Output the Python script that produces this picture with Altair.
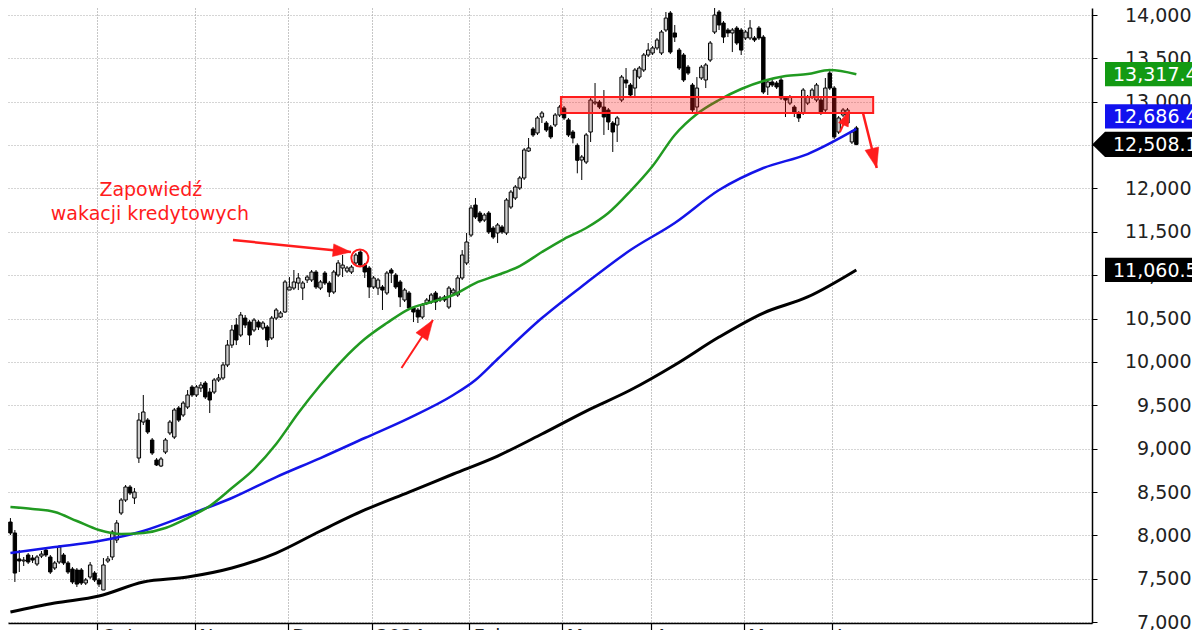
import altair as alt
import pandas as pd

# ---------------- candles (index = trading day from 4 Sep 2023) ----------------
opens = [8154, 8028, 7728, 7705, 7774, 7739, 7670, 7762, 7831, 7751,
         7624, 7693, 7774, 7682, 7612, 7601, 7601, 7451, 7520, 7566,
         7486, 7370, 7705, 7751, 7947, 8258, 8408, 8558, 8431, 8892,
         9307, 9330, 9100, 8869, 8800, 8961, 9181, 9134, 9469, 9388,
         9480, 9711, 9619, 9699, 9757, 9653, 9653, 9792, 9815, 9965,
         10195, 10426, 10310, 10506, 10460, 10368, 10460, 10391, 10403, 10276,
         10506, 10518, 10576, 10829, 10852, 10910, 10852, 10945, 10945, 11037,
         10852, 11025, 10910, 10806, 11002, 11083, 11048, 11037, 11141, 11267,
         11117, 11083, 10864, 10852, 10864, 10795, 11060, 11002, 10922, 10714,
         10795, 10622, 10599, 10518, 10679, 10691, 10795, 10737, 10749, 10633,
         10795, 10772, 10968, 11141, 11463, 11809, 11717, 11636, 11717, 11544,
         11487, 11556, 11487, 11786, 11890, 12005, 12121, 12432, 12686, 12640,
         12824, 12755, 12709, 12732, 12847, 12928, 12790, 12651, 12498, 12328,
         12305, 12651, 12985, 12997, 12939, 12905, 12755, 12732, 13020, 13251,
         13193, 13158, 13285, 13366, 13539, 13562, 13620, 13562, 13827, 14023,
         13793, 13596, 13539, 13400, 13193, 12939, 13274, 13251, 13481, 13804,
         14035, 13908, 13827, 13793, 13850, 13827, 13735, 13735, 13735, 13850,
         13746, 13170, 13228, 13216, 13251, 13043, 12985, 12939, 12870, 12870,
         12985, 13055, 13020, 13020, 12905, 13331, 13158, 12651, 12847, 12755,
         12536, 12698]
closes = [8028, 7566, 7705, 7716, 7693, 7716, 7751, 7785, 7774, 7578,
          7682, 7866, 7682, 7578, 7463, 7439, 7451, 7486, 7659, 7486,
          7439, 7659, 7728, 8039, 8143, 8408, 8558, 8489, 8500, 9330,
          9423, 9192, 8950, 8812, 8881, 9100, 9307, 9446, 9330, 9526,
          9619, 9619, 9711, 9734, 9596, 9561, 9792, 9815, 9965, 10195,
          10368, 10253, 10541, 10426, 10310, 10483, 10403, 10449, 10253, 10506,
          10599, 10564, 10922, 10864, 10922, 10968, 10910, 10979, 11037, 10864,
          10922, 10910, 10806, 11037, 11141, 11117, 11083, 11094, 11233, 11117,
          11037, 10864, 10968, 10945, 10829, 11025, 11025, 10864, 10749, 10829,
          10622, 10576, 10518, 10656, 10714, 10772, 10691, 10714, 10714, 10852,
          10829, 10968, 11233, 11383, 11775, 11671, 11625, 11694, 11498, 11440,
          11579, 11498, 11867, 11959, 12017, 12121, 12444, 12467, 12617, 12813,
          12870, 12674, 12594, 12847, 12939, 12813, 12617, 12582, 12325, 12363,
          12617, 13020, 12997, 12939, 12824, 12767, 12651, 12813, 13285, 13216,
          13078, 13366, 13389, 13539, 13596, 13620, 13712, 13804, 13965, 13573,
          13746, 13389, 13251, 13331, 12905, 13158, 13400, 13424, 13677, 14000,
          13885, 13746, 13793, 13827, 13677, 13596, 13804, 13850, 13712, 13735,
          13112, 13228, 13193, 13170, 13043, 13020, 13055, 12870, 12813, 13135,
          13055, 13135, 13193, 12870, 13158, 13158, 12594, 12813, 12905, 12905,
          12651, 12508.1]
highs = [8200, 8062, 7831, 7751, 7797, 7774, 7774, 7820, 7855, 7774,
         7705, 7889, 7797, 7705, 7635, 7624, 7624, 7509, 7693, 7589,
         7509, 7739, 7762, 8062, 8177, 8431, 8581, 8581, 8546, 9411,
         9619, 9353, 9123, 8892, 8904, 9123, 9330, 9469, 9492, 9549,
         9676, 9734, 9734, 9769, 9780, 9699, 9815, 9861, 9999, 10253,
         10426, 10506, 10576, 10541, 10483, 10506, 10483, 10472, 10426, 10530,
         10622, 10587, 10945, 10979, 11060, 11025, 10934, 11002, 11060, 11060,
         10945, 11048, 10934, 11060, 11175, 11233, 11106, 11117, 11256, 11290,
         11141, 11106, 10991, 10968, 10887, 11048, 11083, 11025, 10945, 10852,
         10818, 10645, 10622, 10679, 10737, 10795, 10818, 10760, 10772, 10875,
         10852, 11002, 11290, 11487, 11809, 11890, 11740, 11717, 11740, 11567,
         11602, 11579, 11890, 11982, 12040, 12144, 12467, 12582, 12709, 12836,
         12893, 12778, 12732, 12870, 12962, 12951, 12813, 12674, 12521, 12386,
         12640, 13043, 13216, 13020, 13135, 12928, 12778, 12836, 13308, 13389,
         13216, 13389, 13412, 13562, 13677, 13643, 13735, 13827, 14035, 14046,
         13885, 13620, 13562, 13424, 13216, 13285, 13424, 13447, 13700, 14138,
         14058, 13931, 13850, 13850, 13873, 13850, 13827, 13942, 13758, 13873,
         13769, 13251, 13251, 13239, 13274, 13066, 13078, 12962, 12893, 13158,
         13078, 13158, 13216, 13043, 13274, 13354, 13181, 12836, 12928, 12928,
         12674, 12721]
lows = [8004, 7463, 7578, 7647, 7670, 7682, 7647, 7739, 7751, 7555,
        7601, 7670, 7659, 7555, 7439, 7405, 7428, 7428, 7497, 7463,
        7405, 7370, 7682, 7716, 7912, 8235, 8385, 8466, 8362, 8835,
        9273, 9169, 8927, 8800, 8788, 8938, 9157, 9111, 9307, 9365,
        9457, 9596, 9596, 9653, 9573, 9411, 9630, 9769, 9792, 9941,
        10161, 10195, 10287, 10391, 10195, 10345, 10368, 10368, 10172, 10253,
        10483, 10506, 10564, 10829, 10829, 10829, 10714, 10910, 10922, 10841,
        10829, 10887, 10749, 10783, 10979, 10979, 11025, 11014, 11117, 11094,
        10968, 10737, 10841, 10772, 10599, 10772, 10910, 10841, 10633, 10691,
        10599, 10460, 10449, 10495, 10656, 10668, 10599, 10691, 10691, 10610,
        10772, 10749, 10945, 11117, 11440, 11648, 11602, 11613, 11475, 11417,
        11371, 11475, 11463, 11763, 11867, 11982, 12098, 12421, 12594, 12617,
        12755, 12651, 12571, 12709, 12824, 12790, 12594, 12521, 12175, 12098,
        12282, 12536, 12962, 12916, 12617, 12674, 12421, 12536, 12997, 13158,
        13055, 13043, 13262, 13343, 13516, 13539, 13596, 13539, 13804, 13550,
        13689, 13366, 13228, 13308, 12882, 12882, 13251, 13158, 13458, 13781,
        13827, 13677, 13746, 13573, 13654, 13539, 13712, 13712, 13689, 13712,
        13089, 13078, 13170, 13147, 13020, 12824, 12962, 12824, 12767, 12847,
        12962, 13032, 12997, 12847, 12882, 13135, 12571, 12628, 12824, 12732,
        12513, 12498]
days = list(range(len(opens)))

# ---------------- moving averages ----------------
green_days = list(range(0, 186, 5)) + [191]
green_vals = [8327, 8304, 8270, 8166, 8062, 8016, 8028, 8085, 8200, 8339,
              8546, 8765, 9054, 9411, 9734, 10022, 10264, 10449, 10610, 10691,
              10772, 10910, 11002, 11106, 11267, 11417, 11544, 11717, 11971, 12259,
              12617, 12859, 13020, 13147, 13239, 13297, 13320, 13366, 13317.4]
blue_days = [0, 10, 20, 30, 40, 50, 60, 70, 80, 90, 100, 105, 110, 120, 130,
             140, 150, 160, 170, 180, 191]
blue_vals = [7797, 7866, 7935, 8051, 8235, 8431, 8673, 8892, 9123, 9353, 9619,
             9792, 10034, 10506, 10910, 11290, 11602, 11982, 12236, 12397, 12686.4]
black_days = list(range(0, 181, 10)) + [191]
black_vals = [7117, 7220, 7301, 7463, 7520, 7624, 7797, 8051, 8293, 8500,
              8708, 8915, 9169, 9434, 9676, 9965, 10287, 10564, 10749, 11060.5]

# ---------------- axes ----------------
month_days = [19.6, 41.6, 62.6, 81.6, 103.6, 124.6, 144.6, 165.6, 185.6]
month_names = ["Oct", "Nov", "Dec", "2024", "Feb", "Mar", "Apr", "May", "Jun"]
price_ticks = list(range(7000, 14001, 500))

# ---------------- annotations ----------------
zone_days = [124.3, 194.8]
zone_prices = [12870, 13055]
note_lines = ["Zapowiedź", "wakacji kredytowych"]
note_days = [31.7, 31.5]
note_prices = [11913, 11636]
arrow_from_days = [50.25, 88.3, 192.5, 187.3]
arrow_from_prices = [11406, 9930, 12870, 12651]
arrow_to_days = [76.9, 95.4, 195.6, 189.4]
arrow_to_prices = [11267, 10483, 12236, 12893]
arrow_angles = [6, 304, 76, 293]
arrow_heads = [18, 20, 20, 15]
arrow_widths = [2.5, 2, 2.5, 2]
circle_day = [78.9]
circle_price = [11198]

tag_values = [13317.4, 12686.4, 12508.1, 11060.5]
tag_colors = ["#139a13", "#1212ee", "#000000", "#000000"]
tag_shift = [0, -12.5, 0, 0]
tag_pointer = [False, False, True, False]

RED = "#ff1c1c"
FONT = "DejaVu Sans"

xs = alt.Scale(domain=[0.58, 243.08], nice=False, zero=False)
ys = alt.Scale(domain=[6990, 14081], nice=False, zero=False)

expr = "'" + month_names[-1] + "'"
for k in range(len(month_names) - 2, -1, -1):
    mid = (month_days[k] + month_days[k + 1]) / 2
    expr = f"datum.value < {mid} ? '{month_names[k]}' : ({expr})"

x_axis = alt.Axis(values=month_days, labelExpr=expr, grid=True, gridDash=[1, 2],
                  gridColor="#8c8c8c", gridWidth=1, domainColor="#000000", domainWidth=1.5,
                  tickColor="#000000", tickSize=10, tickWidth=1.2, labelAlign="left",
                  labelBaseline="top", labelPadding=-6, labelOffset=4, labelFont=FONT,
                  labelFontSize=19, labelColor="#222222", labelFlush=False,
                  labelOverlap=False, title=None)
y_axis = alt.Axis(values=price_ticks, format=",.0f", orient="right", grid=True,
                  gridDash=[1, 2], gridColor="#aaaaaa", gridWidth=1,
                  domainColor="#000000", domainWidth=1.5, tickColor="#000000",
                  tickSize=5, labelAlign="right", labelBaseline="middle",
                  labelPadding=94, labelFont=FONT, labelFontSize=19,
                  labelColor="#222222", labelFlush=False, labelOverlap=False,
                  title=None)


def X(field):
    return alt.X(field, type="quantitative", scale=xs, axis=x_axis)


def Y(field):
    return alt.Y(field, type="quantitative", scale=ys, axis=y_axis)


df = pd.DataFrame({"day": days, "open": opens, "high": highs, "low": lows,
                   "close": closes})

wicks = alt.Chart(df).mark_rule(color="#000000", strokeWidth=1).encode(
    x=X("day"), y=Y("low"), y2="high")
bodies = alt.Chart(df).mark_bar(width=3.4, stroke="#000000", strokeWidth=1).encode(
    x=X("day"), y=Y("open"), y2="close",
    fill=alt.condition("datum.close >= datum.open", alt.value("#cdcdcd"),
                       alt.value("#000000")))


def ma_line(d, v, color, w):
    return alt.Chart(pd.DataFrame({"day": d, "v": v})).mark_line(
        color=color, strokeWidth=w, interpolate="monotone").encode(
        x=X("day"), y=Y("v"))


lines = [ma_line(black_days, black_vals, "#000000", 3),
         ma_line(blue_days, blue_vals, "#1414e8", 2.5),
         ma_line(green_days, green_vals, "#219a21", 2.5)]

zone = alt.Chart(pd.DataFrame({"d1": [zone_days[0]], "d2": [zone_days[1]],
                               "p1": [zone_prices[0]], "p2": [zone_prices[1]]})).mark_rect(
    fill=RED, fillOpacity=0.3, stroke=RED, strokeWidth=2).encode(
    x=X("d1"), x2="d2", y=Y("p1"), y2="p2")

notes = alt.Chart(pd.DataFrame({"day": note_days, "p": note_prices, "t": note_lines})).mark_text(
    color=RED, font=FONT, fontSize=19, align="center", baseline="alphabetic").encode(
    x=X("day"), y=Y("p"), text="t:N")

circle = alt.Chart(pd.DataFrame({"day": circle_day, "p": circle_price})).mark_point(
    shape="circle", size=290, filled=False, stroke=RED, strokeWidth=2, opacity=1).encode(
    x=X("day"), y=Y("p"))

arrows = []
for k in range(len(arrow_to_days)):
    adf = pd.DataFrame({"d1": [arrow_from_days[k]], "p1": [arrow_from_prices[k]],
                        "d2": [arrow_to_days[k]], "p2": [arrow_to_prices[k]]})
    arrows.append(alt.Chart(adf).mark_rule(color=RED, strokeWidth=arrow_widths[k]).encode(
        x=X("d1"), y=Y("p1"), x2="d2", y2="p2"))
    arrows.append(alt.Chart(adf).mark_point(
        shape="M0,0L-2,-0.7L-2,0.7Z", size=arrow_heads[k] ** 2, filled=True,
        fill=RED, stroke=RED, strokeWidth=0.5, opacity=1, angle=arrow_angles[k]).encode(
        x=X("d2"), y=Y("p2")))

tags = []
for k in range(len(tag_values)):
    tdf = pd.DataFrame({"v": [tag_values[k]], "t": [f"{tag_values[k]:,.1f}"]})
    path = ("M-1.27,0L-1,-0.265H1V0.265H-1Z" if tag_pointer[k]
            else "M-1,-0.255H1V0.255H-1Z")
    tags.append(alt.Chart(tdf).mark_point(
        shape=path, size=95 ** 2, filled=True, fill=tag_colors[k], strokeWidth=0,
        opacity=1, yOffset=tag_shift[k]).encode(
        x=alt.value(1144.5), y=Y("v")))
    tags.append(alt.Chart(tdf).mark_text(
        align="left", baseline="middle", color="#ffffff", font=FONT, fontSize=19,
        yOffset=tag_shift[k] + 1).encode(x=alt.value(1105), y=Y("v"), text="t:N"))

chart = alt.layer(wicks, bodies, *lines, zone, notes, circle, *arrows, *tags).properties(
    width=1084, height=615,
    autosize=alt.AutoSizeParams(type="none"),
    padding={"left": 0, "top": 0, "right": 100, "bottom": 12},
    background="#ffffff",
).configure_view(stroke=None)

chart.save("out.html", embed_options={"renderer": "svg", "actions": False})
